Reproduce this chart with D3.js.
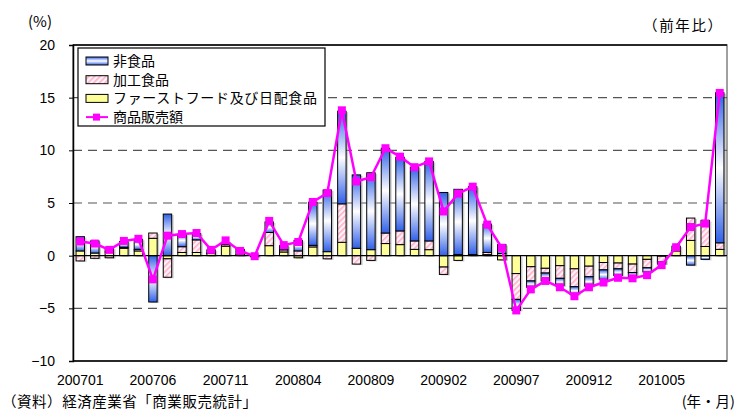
<!DOCTYPE html>
<html>
<head>
<meta charset="utf-8">
<script src="https://cdn.jsdelivr.net/npm/d3@7"></script>
<style>
  body { margin: 0; background: #fff; }
  text { font-family: "Liberation Sans", Arial, sans-serif; }
  .jp { font-family: "Noto Sans CJK JP", sans-serif; }
</style>
</head>
<body>
<div id="chart"></div>
<script>
// Month labels (年月)
var months = ["200701","200702","200703","200704","200705","200706","200707","200708","200709","200710","200711","200712",
              "200801","200802","200803","200804","200805","200806","200807","200808","200809","200810","200811","200812",
              "200901","200902","200903","200904","200905","200906","200907","200908","200909","200910","200911","200912",
              "201001","201002","201003","201004","201005","201006","201007","201008","201009"];

// ファーストフード及び日配食品 (contribution, %)
var fastFood = [0.45,0.25,0.35,0.7,0.45,1.65,-0.3,0.3,0.3,0.2,0.9,0.1,
                0.05,0.95,0.35,-0.2,0.83,0.38,1.27,0.7,0.57,1.15,1.05,0.6,
                0.57,-1.08,-0.45,0.05,0.1,-0.4,-1.7,-1.05,-1.2,-0.95,-1.25,-1.0,
                -0.65,-0.7,-0.8,-0.35,-0.05,0.45,1.45,0.87,0.6];

// 加工食品
var processed = [-0.5,-0.25,-0.2,0.1,0.15,0.5,-1.75,0.55,1.2,0.05,0.15,0.5,
                 -0.1,1.25,0.2,0.45,0.15,-0.3,3.65,-0.8,-0.45,1.0,1.3,0.8,
                 0.83,-0.7,0.1,0.05,0.2,0.2,-2.45,-1.35,-0.45,-1.2,-1.7,-1.0,
                 -0.7,-0.55,-0.8,-0.8,-0.55,0.45,2.12,2.48,0.62];

// 非食品
var nonFood = [1.35,1.15,0.35,0.55,0.95,-4.4,3.95,1.2,0.6,0.3,0.2,0,
               0,1.0,0.4,1.0,4.1,5.85,8.8,6.97,7.3,8.05,7.0,7.0,
               7.55,6.0,6.2,6.45,2.7,0.85,-1.05,-0.6,-0.75,-0.7,-0.75,-0.9,
               -0.9,-0.65,-0.4,-0.4,-0.2,0,-0.9,-0.35,14.25];

// 商品販売額 (前年比)
var total = [1.35,1.15,0.55,1.4,1.6,-2.25,1.9,2.05,2.15,0.55,1.45,0.45,
             -0.05,3.3,1.0,1.3,5.1,5.95,13.8,7.05,7.45,10.2,9.4,8.4,
             8.95,4.2,5.9,6.55,2.95,0.75,-5.2,-3.2,-2.4,-3.0,-3.85,-3.0,
             -2.55,-2.1,-2.15,-1.85,-0.9,0.8,2.72,3.05,15.45];

var yTicks = [-10,-5,0,5,10,15,20];
var xTickLabels = ["200701","200706","200711","200804","200809","200902","200907","200912","201005"];

// chart frame
var width = 737, height = 410;
var plot = { left: 73, right: 727, top: 45, bottom: 361 };

var svg = d3.select("#chart").append("svg")
    .attr("width", width)
    .attr("height", height);

var defs = svg.append("defs");

// blue gradient for 非食品
var grad = defs.append("linearGradient")
    .attr("id", "blueGrad")
    .attr("x1", 0).attr("y1", 0).attr("x2", 0).attr("y2", 1);
grad.append("stop").attr("offset", "0%").attr("stop-color", "#3060e8");
grad.append("stop").attr("offset", "50%").attr("stop-color", "#ffffff");
grad.append("stop").attr("offset", "100%").attr("stop-color", "#3060e8");

// pink hatch for 加工食品
var pat = defs.append("pattern")
    .attr("id", "pinkHatch")
    .attr("patternUnits", "userSpaceOnUse")
    .attr("width", 4).attr("height", 4)
    .attr("patternTransform", "rotate(45)");
pat.append("rect").attr("width", 4).attr("height", 4).attr("fill", "#fff2f6");
pat.append("rect").attr("width", 1.6).attr("height", 4).attr("fill", "#ffaecb");

// scales
var x = d3.scaleBand()
    .domain(months)
    .range([plot.left, plot.right])
    .paddingInner(0.42)
    .paddingOuter(0.21);

var y = d3.scaleLinear()
    .domain([-10, 20])
    .range([plot.bottom, plot.top]);

// plot area border
svg.append("rect")
    .attr("x", plot.left).attr("y", plot.top)
    .attr("width", plot.right - plot.left).attr("height", plot.bottom - plot.top)
    .attr("fill", "none").attr("stroke", "#808080").attr("stroke-width", 1.5);
svg.append("line")
    .attr("x1", plot.left).attr("x2", plot.right)
    .attr("y1", plot.top).attr("y2", plot.top)
    .attr("stroke", "#000").attr("stroke-width", 1.5);
svg.append("line")
    .attr("x1", plot.left).attr("x2", plot.right)
    .attr("y1", plot.bottom).attr("y2", plot.bottom)
    .attr("stroke", "#000").attr("stroke-width", 1.5);

// dashed gridlines
svg.append("g").selectAll("line")
    .data(yTicks.filter(function (d) { return d !== 0 && d !== 20 && d !== -10; }))
    .enter().append("line")
    .attr("x1", plot.left).attr("x2", plot.right)
    .attr("y1", function (d) { return y(d); })
    .attr("y2", function (d) { return y(d); })
    .attr("stroke", "#555").attr("stroke-width", 1.2)
    .attr("stroke-dasharray", "9,6");

// y axis
var yAxis = svg.append("g")
    .attr("transform", "translate(" + plot.left + ",0)")
    .call(d3.axisLeft(y).tickValues(yTicks).tickSize(4).tickPadding(14)
        .tickFormat(function (d) { return d < 0 ? "\u2212" + Math.abs(d) : d; }));
yAxis.select(".domain").attr("stroke", "#000").attr("stroke-width", 1.5);
yAxis.selectAll(".tick line").attr("stroke", "#000");
yAxis.selectAll("text").attr("font-size", 14).attr("fill", "#000")
    .attr("font-family", "Liberation Sans, Arial, sans-serif");

// x labels
var xAxis = svg.append("g")
    .attr("transform", "translate(0," + plot.bottom + ")")
    .call(d3.axisBottom(x).tickValues(xTickLabels).tickSize(0).tickPadding(14));
xAxis.select(".domain").remove();
xAxis.selectAll("text").attr("font-size", 14).attr("fill", "#000")
    .attr("font-family", "Liberation Sans, Arial, sans-serif");

// stacked bars
var keys = ["fastFood", "processed", "nonFood"];
var fills = { fastFood: "#ffff99", processed: "url(#pinkHatch)", nonFood: "url(#blueGrad)" };
var rows = months.map(function (m, i) {
    return { month: m, fastFood: fastFood[i], processed: processed[i], nonFood: nonFood[i] };
});
var series = d3.stack().keys(keys).offset(d3.stackOffsetDiverging)(rows);

// shadows
svg.append("g").selectAll("g")
    .data(series).enter().append("g")
    .selectAll("rect")
    .data(function (d) { return d; })
    .enter().append("rect")
    .attr("x", function (d) { return x(d.data.month) + 2; })
    .attr("y", function (d) { return y(d[1]) + 1; })
    .attr("width", x.bandwidth())
    .attr("height", function (d) { return Math.max(0, y(d[0]) - y(d[1])); })
    .attr("fill", "#999").attr("opacity", 0.5);

svg.append("g").selectAll("g")
    .data(series).enter().append("g")
    .attr("fill", function (d) { return fills[d.key]; })
    .selectAll("rect")
    .data(function (d) { return d; })
    .enter().append("rect")
    .attr("x", function (d) { return x(d.data.month); })
    .attr("y", function (d) { return y(d[1]); })
    .attr("width", x.bandwidth())
    .attr("height", function (d) { return Math.max(0, y(d[0]) - y(d[1])); })
    .attr("stroke", "#000").attr("stroke-width", 1);

// zero line
svg.append("line")
    .attr("x1", plot.left).attr("x2", plot.right)
    .attr("y1", y(0)).attr("y2", y(0))
    .attr("stroke", "#000").attr("stroke-width", 1.2);

// total line
var cx = function (d, i) { return x(months[i]) + x.bandwidth() / 2; };
svg.append("path")
    .datum(total)
    .attr("fill", "none")
    .attr("stroke", "#ff00ff").attr("stroke-width", 2.5)
    .attr("d", d3.line().x(cx).y(function (d) { return y(d); }));
svg.append("g").selectAll("rect")
    .data(total).enter().append("rect")
    .attr("x", function (d, i) { return cx(d, i) - 4; })
    .attr("y", function (d) { return y(d) - 4; })
    .attr("width", 8).attr("height", 8)
    .attr("fill", "#ff00ff");

// legend
var legend = svg.append("g");
legend.append("rect")
    .attr("x", 78).attr("y", 48).attr("width", 247).attr("height", 78)
    .attr("fill", "#fff").attr("stroke", "#000").attr("stroke-width", 1.2);
var legendItems = [
    { label: "非食品", fill: "url(#blueGrad)" },
    { label: "加工食品", fill: "url(#pinkHatch)" },
    { label: "ファーストフード及び日配食品", fill: "#ffff99", len: 204 },
    { label: "商品販売額", line: true }
];
legendItems.forEach(function (d, i) {
    var cy = 61 + i * 18.7;
    if (d.line) {
        legend.append("line").attr("x1", 86).attr("x2", 108).attr("y1", cy).attr("y2", cy)
            .attr("stroke", "#ff00ff").attr("stroke-width", 2);
        legend.append("rect").attr("x", 93).attr("y", cy - 3.5).attr("width", 7).attr("height", 7)
            .attr("fill", "#ff00ff");
    } else {
        legend.append("rect").attr("x", 86).attr("y", cy - 4).attr("width", 22).attr("height", 8)
            .attr("fill", d.fill).attr("stroke", "#000").attr("stroke-width", 1);
    }
    var t = legend.append("text").attr("class", "jp")
        .attr("x", 113).attr("y", cy + 5)
        .attr("font-size", 14)
        .text(d.label);
    if (d.len) t.attr("textLength", d.len);
});

// titles and notes
svg.append("text").attr("class", "jp").attr("x", 28).attr("y", 27)
    .attr("font-size", 15).text("(%)");
svg.append("text").attr("class", "jp").attr("x", 643).attr("y", 31)
    .attr("font-size", 14.5).attr("textLength", 79).text("（前年比）");
svg.append("text").attr("class", "jp").attr("x", 2).attr("y", 407)
    .attr("font-size", 14.5).attr("textLength", 255).text("（資料）経済産業省「商業販売統計」");
svg.append("text").attr("class", "jp").attr("x", 735).attr("y", 407)
    .attr("text-anchor", "end").attr("font-size", 14.5).text("(年・月)");
</script>
</body>
</html>
